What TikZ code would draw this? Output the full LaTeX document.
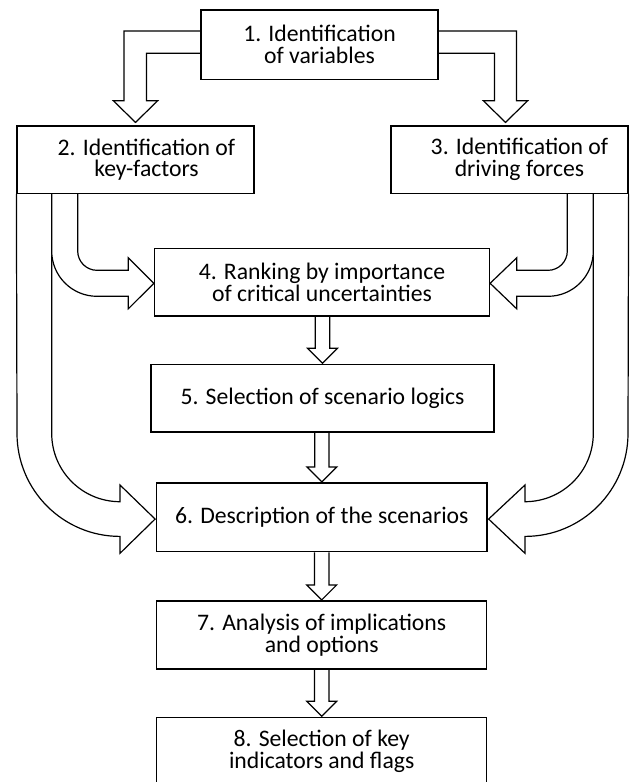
\documentclass[tikz,border=0pt]{standalone}
\usepackage{fontspec}
\setmainfont{Carlito}
\usetikzlibrary{calc,backgrounds}
\begin{document}
\begin{tikzpicture}[x=1pt,y=-1pt,
  box/.style={draw, line width=1.2pt, fill=white, inner sep=0pt, align=center,
              font=\fontsize{23.7}{21.7}\selectfont},
  hollow/.style={draw, line width=1.2pt, fill=white, line join=miter}]
\clip (0,0) rectangle (632,782);

% process steps
\node[box, minimum width=237pt, minimum height=69.3pt] (b1) at (319.5,44.65)
  {1. Identification\\of variables};
\node[box, minimum width=237pt, minimum height=67.3pt] (b2) at (135.5,159.65)
  {\hspace*{22pt}2. Identification of\\\hspace*{22pt}key-factors};
\node[box, minimum width=237pt, minimum height=67.3pt] (b3) at (509.5,159.65)
  {\hspace*{20pt}3. Identification of\\\hspace*{20pt}driving forces};
\node[box, minimum width=335pt, minimum height=67.7pt] (b4) at (322,282.15)
  {4. Ranking by importance\\of critical uncertainties};
\node[box, minimum width=343pt, minimum height=67.7pt] (b5) at (322.5,398.15)
  {5. Selection of scenario logics};
\node[box, minimum width=330.3pt, minimum height=68.7pt] (b6) at (321.85,517.35)
  {6. Description of the scenarios};
\node[box, minimum width=330pt, minimum height=68pt] (b7) at (321.7,635)
  {7. Analysis of implications\\and options};
\node[box, minimum width=330pt, minimum height=68pt] (b8) at (321.7,751.3)
  {8. Selection of key\\indicators and flags};

\begin{scope}[on background layer]
  % step 1 splits towards steps 2 and 3
  \draw[hollow] (b1.west |- 0,31) -- (124,31) -- (124,100.7) -- (113.3,100.7)
    -- ($(b2.north)+(0,-3)$) -- (157.7,100.7) -- (146.5,100.7) -- (146.5,53.3)
    -- (b1.west |- 0,53.3);
  \draw[hollow] (b1.east |- 0,31) -- (516.5,31) -- (516.5,100.7) -- (527.7,100.7)
    -- ($(b3.north)+(-4,-3)$) -- (483.3,100.7) -- (494.5,100.7) -- (494.5,53.3)
    -- (b1.east |- 0,53.3);

  % steps 2 and 3 feed the scenario description
  \draw[hollow] (b2.south west) -- (17,433.4) arc[start angle=180,end angle=90,radius=103]
    -- (120,553.3) -- ($(b6.west)+(-1,1.7)$) -- (120,485) -- (120,501.7)
    arc[start angle=90,end angle=180,radius=68.3] -- (51.7,193.3);
  \draw[hollow] (b3.south east) -- (628,433.4) arc[start angle=0,end angle=90,radius=103]
    -- (525,553.3) -- ($(b6.east)+(1,1.7)$) -- (525,485) -- (525,501.7)
    arc[start angle=90,end angle=0,radius=68.3] -- (593.3,193.3);

  % steps 2 and 3 feed the ranking
  \draw[hollow] (51.7,193.3) -- (51.7,251) arc[start angle=180,end angle=90,radius=45.3]
    -- (128.3,296.3) -- (128.3,308.8) -- ($(b4.west)+(0,1.15)$) -- (128.3,257.8)
    -- (128.3,270.3) -- (97,270.3) arc[start angle=90,end angle=180,radius=19.3]
    -- (77.7,193.3);
  \draw[hollow] (593.3,193.3) -- (593.3,251) arc[start angle=0,end angle=90,radius=45.3]
    -- (516.7,296.3) -- (516.7,308.8) -- ($(b4.east)+(0,1.15)$) -- (516.7,257.8)
    -- (516.7,270.3) -- (548,270.3) arc[start angle=90,end angle=0,radius=19.3]
    -- (567.3,193.3);

  % straight chain 4 -> 5 -> 6 -> 7 -> 8
  \foreach \a/\b in {b4/b5,b5/b6,b6/b7,b7/b8}
    \draw[hollow] let \p1=(\a.south), \p2=(\b.north) in
      ({\x2-7.2pt},\y1) -- ({\x2-7.2pt},{\y2+15.5pt}) -- ({\x2-15pt},{\y2+15.5pt})
      -- (\x2,{\y2+0.5pt}) -- ({\x2+15pt},{\y2+15.5pt}) -- ({\x2+7.2pt},{\y2+15.5pt})
      -- ({\x2+7.2pt},\y1);
\end{scope}
\end{tikzpicture}
\end{document}
